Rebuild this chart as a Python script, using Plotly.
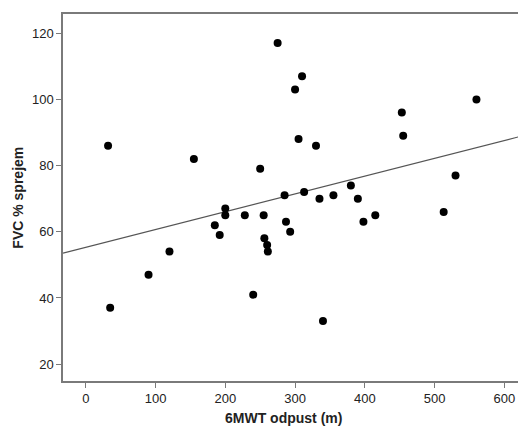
import numpy as np
import plotly.graph_objects as go

# 6MWT odpust (m) vs FVC % sprejem
walk_m = [32, 35, 90, 120, 155, 185, 192, 200, 200, 228, 240, 250, 255, 256, 260, 261,
          275, 285, 287, 293, 300, 305, 310, 313, 330, 335, 340, 355, 380, 390, 398,
          415, 453, 455, 513, 530, 560]
fvc_pct = [86, 37, 47, 54, 82, 62, 59, 67, 65, 65, 41, 79, 65, 58, 56, 54,
           117, 71, 63, 60, 103, 88, 107, 72, 86, 70, 33, 71, 74, 70, 63,
           65, 96, 89, 66, 77, 100]

# fit line
fit_intercept = 55.3
fit_slope = 0.0538

x_range = [-32.6, 631]
y_range = [14.9, 125.8]

line_x = np.array(x_range)
line_y = fit_intercept + fit_slope * line_x

font = "Liberation Sans, Arial, sans-serif"

fig = go.Figure()
fig.add_trace(go.Scatter(x=line_x, y=line_y, mode="lines",
                         line=dict(color="#555555", width=1.2),
                         hoverinfo="skip", showlegend=False))
fig.add_trace(go.Scatter(x=walk_m, y=fvc_pct, mode="markers",
                         marker=dict(color="black", size=8),
                         showlegend=False))

# page body adds an 8px margin, so the figure is 8px smaller than the window
fig.update_layout(
    width=518, height=419,
    margin=dict(l=55, r=0, t=6, b=46),
    paper_bgcolor="white", plot_bgcolor="white",
    font=dict(family=font, size=13, color="#222222"),
    xaxis=dict(range=x_range, tickvals=[0, 100, 200, 300, 400, 500, 600],
               showgrid=False, zeroline=False, showline=True, mirror=True,
               linecolor="#7a7a7a", linewidth=1.5,
               ticks="outside", ticklen=5, tickcolor="#7a7a7a"),
    yaxis=dict(range=y_range, tickvals=[20, 40, 60, 80, 100, 120],
               showgrid=False, zeroline=False, showline=True,
               linecolor="#7a7a7a", linewidth=1.5,
               ticks="outside", ticklen=5, tickcolor="#7a7a7a"),
    annotations=[
        dict(text="<b>6MWT odpust (m)</b>", xref="paper", yref="paper",
             x=0.477, y=-0.1, yanchor="middle", showarrow=False,
             font=dict(family=font, size=14, color="#222222")),
        dict(text="<b>FVC % sprejem</b>", xref="paper", yref="paper",
             x=-0.099, xanchor="center", y=0.5, textangle=-90, showarrow=False,
             font=dict(family=font, size=14, color="#222222")),
    ],
)

fig.write_html("out.html")
